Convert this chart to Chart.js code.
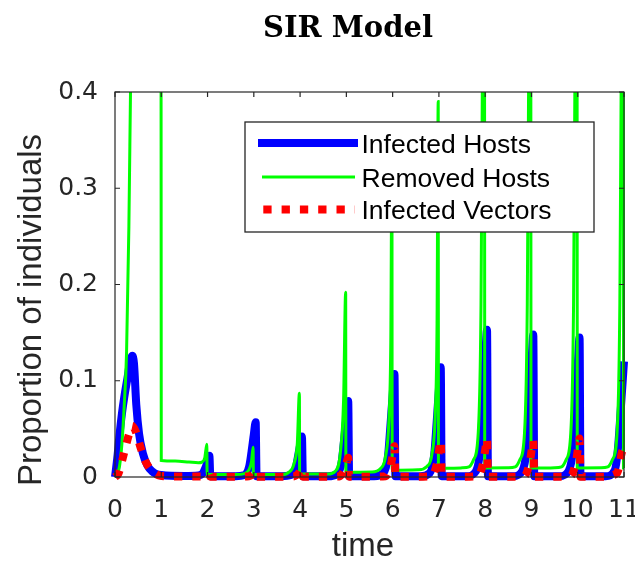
<!DOCTYPE html>
<html>
<head>
<meta charset="utf-8">
<script src="https://cdn.jsdelivr.net/npm/chart.js@4.4.0/dist/chart.umd.min.js"></script>
<style>
	html, body { margin: 0; padding: 0; background: #ffffff; }
	canvas { display: block; }
</style>
</head>
<body>
<canvas id="sir-chart" width="635" height="562"></canvas>
<script>
// values, time axis 0..11
var hostTime = [0, 0.05, 0.1, 0.15, 0.2, 0.27, 0.33, 0.37, 0.41, 0.46, 0.52, 0.6, 0.7, 0.8, 0.9, 1.0,
	1.5, 1.8, 1.9, 1.95, 2.0, 2.04, 2.06,
	2.6, 2.8, 2.9, 2.95, 3.0, 3.04, 3.06,
	3.6, 3.8, 3.9, 3.95, 4.0, 4.04, 4.06,
	4.6, 4.8, 4.9, 4.95, 5.0, 5.04, 5.06,
	5.6, 5.8, 5.9, 5.95, 6.0, 6.04, 6.06,
	6.6, 6.8, 6.9, 6.95, 7.0, 7.04, 7.06,
	7.6, 7.8, 7.9, 7.95, 8.0, 8.04, 8.06,
	8.6, 8.8, 8.9, 8.95, 9.0, 9.04, 9.06,
	9.6, 9.8, 9.9, 9.95, 10.0, 10.04, 10.06,
	10.6, 10.8, 10.87, 10.93, 11.0];
var hostInfected = [0, 0.02, 0.045, 0.066, 0.083, 0.103, 0.121, 0.126, 0.118, 0.075, 0.045, 0.025, 0.012, 0.006, 0.003, 0.002,
	0.001, 0.0015, 0.004, 0.009, 0.016, 0.022, 0.0008,
	0.0008, 0.002, 0.011, 0.026, 0.044, 0.057, 0.0008,
	0.0008, 0.002, 0.008, 0.02, 0.033, 0.042, 0.0008,
	0.0008, 0.003, 0.016, 0.038, 0.062, 0.079, 0.0008,
	0.0008, 0.004, 0.022, 0.052, 0.085, 0.107, 0.0008,
	0.0008, 0.004, 0.024, 0.056, 0.091, 0.114, 0.0008,
	0.0008, 0.006, 0.032, 0.075, 0.122, 0.153, 0.0008,
	0.0008, 0.006, 0.031, 0.073, 0.118, 0.148, 0.0008,
	0.0008, 0.006, 0.03, 0.071, 0.116, 0.145, 0.0008,
	0.0008, 0.007, 0.03, 0.07, 0.12];

var removedTime = [0, 0.05, 0.1, 0.15, 0.2, 0.25, 0.3, 0.34, 0.4, 0.6, 0.99, 1.0,
	1.3, 1.6, 1.8, 1.88, 1.94, 1.985, 1.99,
	2.6, 2.8, 2.9, 2.95, 2.985, 2.99,
	3.6, 3.76, 3.87, 3.94, 3.985, 3.99,
	4.6, 4.76, 4.87, 4.94, 4.985, 4.99,
	5.55, 5.74, 5.85, 5.92, 5.96, 5.985, 5.99,
	6.55, 6.74, 6.85, 6.92, 6.96, 6.985, 6.99,
	7.5, 7.65, 7.75, 7.85, 7.91, 7.94, 7.97, 7.985, 7.99,
	8.5, 8.65, 8.75, 8.85, 8.91, 8.94, 8.97, 8.985, 8.99,
	9.5, 9.65, 9.75, 9.85, 9.91, 9.94, 9.97, 9.985, 9.99,
	10.5, 10.65, 10.75, 10.85, 10.91, 10.94, 10.97, 10.985, 10.99, 11.0];
var removedHosts = [0, 0.003, 0.012, 0.035, 0.075, 0.13, 0.26, 0.42, 0.6, 0.8, 0.9, 0.0172,
	0.0165, 0.0155, 0.0148, 0.0155, 0.02, 0.034, 0.0025,
	0.0025, 0.0035, 0.008, 0.016, 0.031, 0.0025,
	0.0025, 0.005, 0.014, 0.035, 0.087, 0.003,
	0.003, 0.006, 0.025, 0.08, 0.192, 0.005,
	0.0052, 0.009, 0.022, 0.06, 0.14, 0.33, 0.007,
	0.0075, 0.011, 0.024, 0.065, 0.16, 0.39, 0.009,
	0.0095, 0.0105, 0.018, 0.046, 0.18, 0.42, 0.6, 0.65, 0.0094,
	0.0095, 0.0105, 0.018, 0.046, 0.18, 0.42, 0.6, 0.65, 0.0094,
	0.0095, 0.0105, 0.018, 0.046, 0.18, 0.42, 0.6, 0.65, 0.0094,
	0.0095, 0.0105, 0.018, 0.046, 0.18, 0.42, 0.6, 0.65, 0.0094, 0.0094];

var vectorTime = [0, 0.07, 0.17, 0.25, 0.3, 0.37, 0.45, 0.55, 0.65, 0.75, 0.85, 1.0,
	1.5, 1.85, 1.92, 1.97, 2.0, 2.04, 2.06,
	2.5, 2.85, 2.92, 2.97, 3.0, 3.04, 3.06,
	3.5, 3.85, 3.92, 3.97, 4.0, 4.04, 4.06,
	4.5, 4.85, 4.92, 4.97, 5.0, 5.04, 5.06,
	5.5, 5.85, 5.92, 5.97, 6.0, 6.04, 6.06,
	6.5, 6.85, 6.92, 6.97, 7.0, 7.04, 7.06,
	7.5, 7.85, 7.92, 7.97, 8.0, 8.04, 8.06,
	8.5, 8.85, 8.92, 8.97, 9.0, 9.04, 9.06,
	9.5, 9.85, 9.92, 9.97, 10.0, 10.04, 10.06,
	10.5, 10.85, 10.9, 10.95, 11.0];
var vectorInfected = [0, 0.003, 0.02, 0.035, 0.044, 0.053, 0.047, 0.031, 0.017, 0.009, 0.004, 0.001,
	0.0005, 0.0005, 0.0008, 0.0014, 0.002, 0.003, 0.0003,
	0.0003, 0.0005, 0.0012, 0.0027, 0.0042, 0.006, 0.0003,
	0.0003, 0.0005, 0.0018, 0.004, 0.0063, 0.009, 0.0003,
	0.0003, 0.0006, 0.004, 0.009, 0.014, 0.02, 0.0003,
	0.0003, 0.0008, 0.0064, 0.0144, 0.0224, 0.032, 0.0003,
	0.0003, 0.001, 0.0076, 0.017, 0.0266, 0.038, 0.0003,
	0.0003, 0.001, 0.008, 0.018, 0.028, 0.04, 0.0003,
	0.0003, 0.001, 0.0076, 0.017, 0.0266, 0.038, 0.0003,
	0.0003, 0.001, 0.008, 0.018, 0.028, 0.04, 0.0003,
	0.0003, 0.004, 0.012, 0.025, 0.03];

var seriesLabels = ['Infected Hosts', 'Removed Hosts', 'Infected Vectors'];
var xTicks = [0, 11, 1];     // min, max, step
var yTicks = [0, 0.4, 0.1];

var AXIS_COLOR = '#262626';

var page_sir = {
	initialize: function(){
		this.init_chart('sir-chart');
	},
	to_points: function(times, values){
		var pts = [];
		for (var i = 0; i < times.length; i++) {
			pts.push({x: times[i], y: values[i]});
		}
		return pts;
	},
	// matlab style box, inward ticks, labels, legend
	decorations: {
		id: 'decorations',
		afterDatasetsDraw: function(chart){
			var ctx = chart.ctx;
			var area = chart.chartArea;
			var xs = chart.scales.x, ys = chart.scales.y;
			var tl = 5;
			ctx.save();
			ctx.strokeStyle = AXIS_COLOR;
			ctx.lineWidth = 1.2;
			ctx.strokeRect(area.left, area.top, area.right - area.left, area.bottom - area.top);
			ctx.beginPath();
			xs.ticks.forEach(function(t){
				var px = xs.getPixelForValue(t.value);
				ctx.moveTo(px, area.bottom); ctx.lineTo(px, area.bottom - tl);
				ctx.moveTo(px, area.top); ctx.lineTo(px, area.top + tl);
			});
			ys.ticks.forEach(function(t){
				var py = ys.getPixelForValue(t.value);
				ctx.moveTo(area.left, py); ctx.lineTo(area.left + tl, py);
				ctx.moveTo(area.right, py); ctx.lineTo(area.right - tl, py);
			});
			ctx.stroke();
			ctx.restore();
		},
		afterDraw: function(chart){
			var ctx = chart.ctx;
			var sets = chart.data.datasets;
			ctx.save();

			// title
			ctx.fillStyle = '#000000';
			ctx.font = 'bold 29px "DejaVu Serif"';
			ctx.textAlign = 'center';
			ctx.textBaseline = 'alphabetic';
			ctx.fillText('SIR Model', 348, 37);

			// axis labels
			ctx.fillStyle = AXIS_COLOR;
			ctx.font = '33px "Liberation Sans"';
			ctx.fillText('time', 363, 556);
			ctx.save();
			ctx.translate(41, 310);
			ctx.rotate(-Math.PI / 2);
			ctx.fillText('Proportion of individuals', 0, 0);
			ctx.restore();

			// legend
			var box = {left: 245, top: 122, right: 594, bottom: 232};
			ctx.fillStyle = '#ffffff';
			ctx.fillRect(box.left, box.top, box.right - box.left, box.bottom - box.top);
			ctx.strokeStyle = AXIS_COLOR;
			ctx.lineWidth = 1.3;
			ctx.strokeRect(box.left, box.top, box.right - box.left, box.bottom - box.top);

			var rows = [143, 177, 209.5];
			var spans = [[258, 358], [262, 355], [263.3, 355]];
			ctx.font = '26.5px "Liberation Sans"';
			ctx.textAlign = 'left';
			for (var i = 0; i < sets.length; i++) {
				var ds = sets[i];
				ctx.beginPath();
				ctx.strokeStyle = ds.borderColor;
				ctx.lineWidth = ds.borderWidth;
				ctx.lineCap = 'butt';
				ctx.setLineDash(ds.borderDash || []);
				ctx.moveTo(spans[i][0], rows[i]);
				ctx.lineTo(spans[i][1], rows[i]);
				ctx.stroke();
				ctx.setLineDash([]);
				ctx.fillStyle = '#000000';
				ctx.fillText(ds.label, 361.5, rows[i] + 9.5);
			}
			ctx.restore();
		}
	},
	init_chart: function(canvasId){
		var clip = {left: 6, top: 0, right: 4, bottom: 6};
		var config = {
			type: 'line',
			data: {
				datasets: [{
					label: seriesLabels[0],
					data: this.to_points(hostTime, hostInfected),
					borderColor: '#0000ff',
					borderWidth: 8,
					order: 3,
					clip: clip
				}, {
					label: seriesLabels[1],
					data: this.to_points(removedTime, removedHosts),
					borderColor: '#00ff00',
					borderWidth: 3,
					order: 2,
					clip: clip
				}, {
					label: seriesLabels[2],
					data: this.to_points(vectorTime, vectorInfected),
					borderColor: '#ff0000',
					borderWidth: 8,
					borderDash: [8.3, 10],
					borderCapStyle: 'butt',
					order: 1,
					clip: clip
				}]
			},
			options: {
				responsive: false,
				animation: false,
				devicePixelRatio: 1,
				layout: { padding: { top: 92, right: 11, left: 0, bottom: 0 } },
				elements: {
					point: { radius: 0 },
					line: { cubicInterpolationMode: 'monotone', fill: false }
				},
				plugins: {
					legend: { display: false },
					title: { display: false },
					tooltip: { enabled: false }
				},
				scales: {
					x: {
						type: 'linear',
						min: xTicks[0],
						max: xTicks[1],
						ticks: {
							stepSize: xTicks[2],
							autoSkip: false,
							maxRotation: 0,
							color: AXIS_COLOR,
							padding: 10,
							font: { family: 'DejaVu Sans', size: 25 }
						},
						grid: { display: false, drawTicks: true, tickLength: 8 },
						border: { display: false },
						afterFit: function(scale){
							scale.height = 85;
							scale.paddingLeft = 0;
							scale.paddingRight = 0;
						}
					},
					y: {
						min: yTicks[0],
						max: yTicks[1],
						ticks: {
							stepSize: yTicks[2],
							color: AXIS_COLOR,
							padding: 17,
							font: { family: 'DejaVu Sans', size: 25 }
						},
						grid: { display: false, drawTicks: false },
						border: { display: false },
						afterFit: function(scale){
							scale.width = 115;
							scale.paddingTop = 0;
							scale.paddingBottom = 0;
						}
					}
				}
			},
			plugins: [this.decorations]
		};
		var ctx = document.getElementById(canvasId).getContext('2d');
		new Chart(ctx, config);
	}
};

page_sir.initialize();
</script>
</body>
</html>
